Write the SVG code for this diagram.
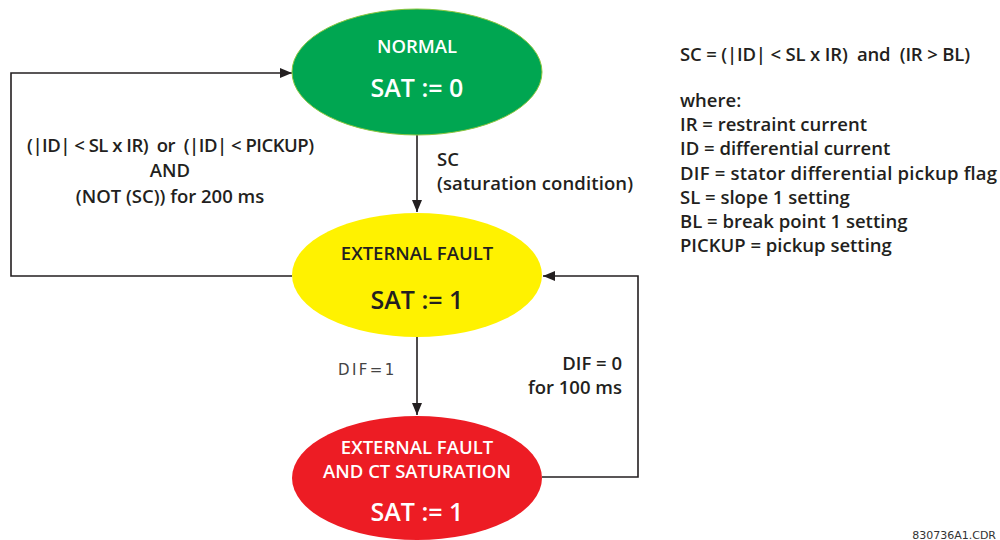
<svg xmlns="http://www.w3.org/2000/svg" width="1000" height="540" viewBox="0 0 1000 540">
<style>
.t{font-family:"Open Sans",Lato,"Liberation Sans",sans-serif;font-weight:600;fill:#231f20}
.lg{font-size:18.5px}
.w{fill:#ffffff}
.c{text-anchor:middle}
.r{text-anchor:end}
.big{font-size:25px}
.nm{font-size:18.5px}
.conn{fill:none;stroke:#231f20;stroke-width:1.6}
</style>
<defs>
<marker id="ah" viewBox="0 0 12 10" refX="12" refY="5" markerWidth="12" markerHeight="10" markerUnits="userSpaceOnUse" orient="auto">
<path d="M0,0 L12,5 L0,10 z" fill="#231f20"/>
</marker>
</defs>
<rect width="1000" height="540" fill="#ffffff"/>
<g id="connectors">
<path class="conn" d="M417,135 V212" marker-end="url(#ah)"/>
<path class="conn" d="M292,276 H11 V73 H292" marker-end="url(#ah)"/>
<path class="conn" d="M542,477 H638 V276 H543" marker-end="url(#ah)"/>
<path class="conn" d="M417,337 V415" marker-end="url(#ah)"/>
</g>
<g id="normal">
<ellipse cx="417" cy="72" rx="125" ry="63" fill="#00a651" stroke="#8dc63f" stroke-width="1"/>
<text class="t w c nm" x="417" y="53">NORMAL</text>
<text class="t w c big" x="417" y="97">SAT := 0</text>
</g>
<g id="external-fault">
<ellipse cx="417" cy="275" rx="125" ry="62" fill="#fff200"/>
<text class="t c nm" x="417" y="260">EXTERNAL FAULT</text>
<text class="t c big" x="417" y="309">SAT := 1</text>
</g>
<g id="ct-saturation">
<ellipse cx="417" cy="478" rx="125" ry="62" fill="#ed1c24"/>
<text class="t w c nm" x="417" y="454">EXTERNAL FAULT</text>
<text class="t w c nm" x="417" y="478">AND CT SATURATION</text>
<text class="t w c big" x="417" y="521">SAT := 1</text>
</g>
<g id="labels">
<text class="t lg" x="27" y="152" textLength="287" xml:space="preserve">(|ID| &lt; SL x IR)  or  (|ID| &lt; PICKUP)</text>
<text class="t c lg" x="170" y="177">AND</text>
<text class="t c lg" x="170" y="203">(NOT (SC)) for 200 ms</text>
<text class="t lg" x="437" y="166">SC</text>
<text class="t lg" x="437" y="190" textLength="196">(saturation condition)</text>
<text x="338" y="375" font-family="'DejaVu Sans',sans-serif" font-size="15" fill="#444" letter-spacing="2.4">DIF=1</text>
<text class="t r lg" x="622" y="370">DIF = 0</text>
<text class="t r lg" x="622" y="394">for 100 ms</text>
</g>
<g id="legend">
<text class="t lg" x="680" y="61" textLength="290" xml:space="preserve">SC = (|ID| &lt; SL x IR)  and  (IR &gt; BL)</text>
<text class="t lg" x="680" y="107">where:</text>
<text class="t lg" x="680" y="131">IR = restraint current</text>
<text class="t lg" x="680" y="155">ID = differential current</text>
<text class="t lg" x="680" y="180" textLength="317">DIF = stator differential pickup flag</text>
<text class="t lg" x="680" y="204">SL = slope 1 setting</text>
<text class="t lg" x="680" y="228">BL = break point 1 setting</text>
<text class="t lg" x="680" y="252">PICKUP = pickup setting</text>
</g>
<text x="996" y="539" text-anchor="end" font-family="'DejaVu Sans',sans-serif" font-size="11" fill="#333">830736A1.CDR</text>
</svg>
